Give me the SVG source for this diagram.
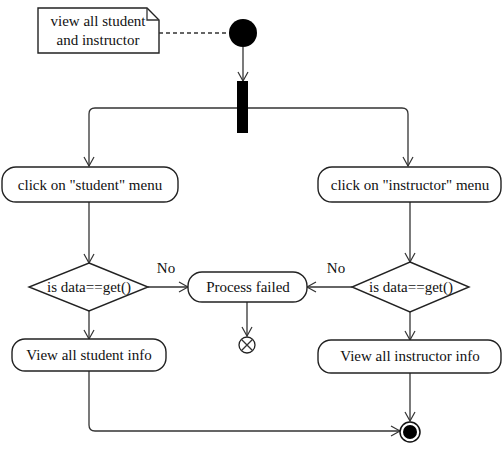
<svg xmlns="http://www.w3.org/2000/svg" width="504" height="453" viewBox="0 0 504 453">
<style>
.box{fill:#fff;stroke:#222;stroke-width:1.4}
.ln{fill:none;stroke:#333;stroke-width:1.3}
text{font-family:"Liberation Serif","Times New Roman",serif;font-size:15px;fill:#111;text-anchor:middle}
</style>
<defs>
<marker id="a" markerWidth="12" markerHeight="12" refX="10" refY="6" orient="auto" markerUnits="userSpaceOnUse">
<path d="M1,1 L10,6 L1,11" fill="none" stroke="#333" stroke-width="1.2"/>
</marker>
</defs>
<rect width="504" height="453" fill="#fff"/>
<g id="note">
<path class="box" d="M38,8 H147 L159,20 V53 H38 Z"/>
<path class="ln" d="M147,8 V20 H159"/>
<text x="98" y="26">view all student</text>
<text x="98" y="45">and instructor</text>
</g>
<g id="connectors">
<line class="ln" x1="159" y1="33" x2="229" y2="33" stroke-dasharray="4,3"/>
<line class="ln" x1="243" y1="47" x2="243" y2="81" marker-end="url(#a)"/>
<path class="ln" d="M237,108 H95 Q89,108 89,114 V166" marker-end="url(#a)"/>
<path class="ln" d="M248,108 H402 Q408,108 408,114 V166" marker-end="url(#a)"/>
<line class="ln" x1="89" y1="202" x2="89" y2="263" marker-end="url(#a)"/>
<line class="ln" x1="148" y1="287" x2="188" y2="287" marker-end="url(#a)"/>
<line class="ln" x1="352" y1="287" x2="307" y2="287" marker-end="url(#a)"/>
<line class="ln" x1="247" y1="302" x2="247" y2="336" marker-end="url(#a)"/>
<line class="ln" x1="89" y1="311" x2="89" y2="339" marker-end="url(#a)"/>
<line class="ln" x1="410" y1="202" x2="410" y2="262" marker-end="url(#a)"/>
<line class="ln" x1="410" y1="312" x2="410" y2="340" marker-end="url(#a)"/>
<path class="ln" d="M89,371 V425 Q89,431 95,431 H400" marker-end="url(#a)"/>
<line class="ln" x1="410" y1="373" x2="410" y2="421" marker-end="url(#a)"/>
<text x="166" y="273">No</text>
<text x="336" y="273">No</text>
</g>
<g id="start"><circle cx="243" cy="33" r="14" fill="#000"/></g>
<g id="fork"><rect x="237" y="81" width="11" height="52" fill="#000"/></g>
<g id="studentMenu">
<rect class="box" x="2" y="167" width="176" height="35" rx="14"/>
<text x="90" y="190">click on "student" menu</text>
</g>
<g id="instructorMenu">
<rect class="box" x="318" y="167" width="183" height="35" rx="14"/>
<text x="410" y="190">click on "instructor" menu</text>
</g>
<g id="decisionLeft">
<path class="box" d="M89,263 L148,287 L89,311 L29,287 Z"/>
<text x="89" y="292">is data==get()</text>
</g>
<g id="decisionRight">
<path class="box" d="M410,262 L469,287 L410,312 L352,287 Z"/>
<text x="411" y="292">is data==get()</text>
</g>
<g id="failed">
<rect class="box" x="188" y="272" width="119" height="30" rx="14"/>
<text x="248" y="292">Process failed</text>
</g>
<g id="flowFinal">
<circle cx="247" cy="345" r="8" fill="#fff" stroke="#222" stroke-width="1.3"/>
<path class="ln" d="M241.3,339.3 L252.7,350.7 M252.7,339.3 L241.3,350.7"/>
</g>
<g id="studentInfo">
<rect class="box" x="12" y="339" width="154" height="32" rx="13"/>
<text x="89" y="360">View all student info</text>
</g>
<g id="instructorInfo">
<rect class="box" x="318" y="340" width="183" height="33" rx="13"/>
<text x="410" y="361">View all instructor info</text>
</g>
<g id="end">
<circle cx="410" cy="432" r="10" fill="#fff" stroke="#111" stroke-width="1.5"/>
<circle cx="410" cy="432" r="7" fill="#000"/>
</g>
</svg>
